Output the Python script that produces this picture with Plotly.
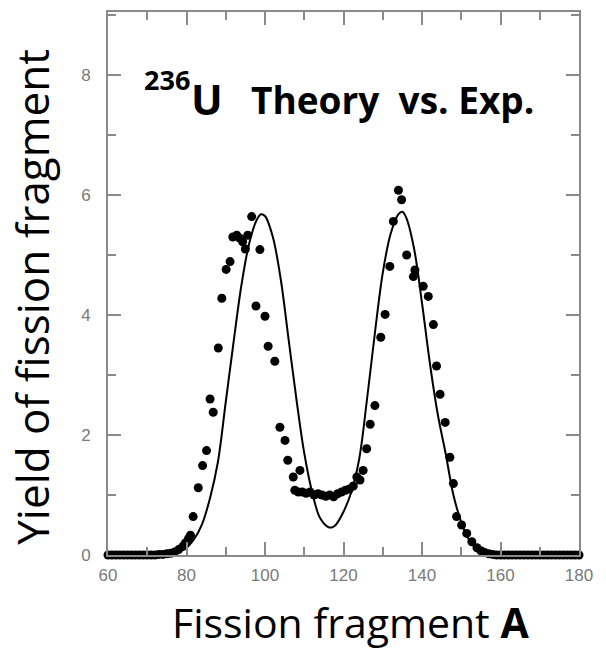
import plotly.graph_objects as go

# Theory curve: fragment mass number A and yield (%)
theory_A = [60, 70, 74, 76, 78, 80, 82, 84, 86, 88, 90, 92, 94, 96, 98, 99, 100,
            102, 104, 106, 108, 110, 112, 114, 116, 117, 118, 120, 122, 124, 126,
            128, 130, 132, 134, 135, 136, 138, 140, 142, 144, 146, 148, 150, 152,
            154, 156, 158, 160, 170, 180]
theory_Y = [0, 0, 0.01, 0.03, 0.06, 0.12, 0.27, 0.52, 0.95, 1.55, 2.55, 3.55, 4.5,
            5.2, 5.6, 5.68, 5.65, 5.3, 4.6, 3.6, 2.6, 1.7, 1.05, 0.62, 0.47, 0.46,
            0.5, 0.72, 1.05, 1.6, 2.6, 3.7, 4.7, 5.35, 5.68, 5.72, 5.62, 5.1, 4.2,
            3.2, 2.35, 1.7, 1.0, 0.55, 0.25, 0.12, 0.06, 0.02, 0, 0, 0]

# Experimental yields
exp_A = [60, 61, 62, 63, 64, 65, 66, 67, 68, 69, 70, 71, 72, 73, 74, 75, 76, 77,
         78, 79, 79.7, 80.5, 81, 81.7, 83.0, 84.1, 85.1, 86.0, 86.8, 88.1, 89.0,
         90.1, 91.1, 91.8, 92.8, 93.6, 94.3, 95.0, 95.6, 96.6, 97.7, 98.7, 100.0,
         100.8, 102.5, 103.8, 105.1, 105.8, 107.2, 107.6, 108.9, 108.5, 109.5,
         110.5, 111.5, 112.5, 113.5, 114.5, 115.5, 116.5, 117.5, 118.5, 119.5,
         120.5, 121.5, 122.5, 123.4, 124.2, 125.0, 125.9, 126.8, 128.0, 129.5,
         130.6, 131.8, 132.7, 134.0, 134.8, 136.1, 137.8, 138.2, 140.3, 141.6,
         142.9, 143.7, 144.6, 145.9, 147.1, 148.0, 148.8, 150.1, 151.4, 152.7,
         154, 155, 156, 157, 158, 159, 160, 161, 162, 163, 164, 165, 166, 167,
         168, 169, 170, 171, 172, 173, 174, 175, 176, 177, 178, 179, 180]
exp_Y = [0, 0, 0, 0, 0, 0, 0, 0, 0, 0, 0, 0, 0, 0.01, 0.01, 0.02, 0.03, 0.05,
         0.09, 0.14, 0.2, 0.27, 0.33, 0.64, 1.12, 1.49, 1.74, 2.6, 2.38, 3.45,
         4.28, 4.76, 4.89, 5.3, 5.33, 5.28, 5.22, 5.1, 5.33, 5.64, 4.15, 5.09,
         3.98, 3.48, 3.23, 2.13, 1.91, 1.58, 1.3, 1.08, 1.41, 1.05, 1.05, 1.03,
         1.05, 1.0, 1.02, 1.0, 0.98, 1.0, 0.97, 1.02, 1.05, 1.08, 1.1, 1.15, 1.3,
         1.25, 1.41, 1.77, 2.18, 2.49, 3.63, 4.01, 4.81, 5.56, 6.08, 5.92, 5.0,
         4.64, 4.75, 4.48, 4.31, 3.84, 3.15, 2.68, 2.21, 1.63, 1.19, 0.64, 0.5,
         0.36, 0.22, 0.12, 0.07, 0.04, 0.02, 0.01, 0, 0, 0, 0, 0, 0, 0, 0, 0, 0,
         0, 0, 0, 0, 0, 0, 0, 0, 0, 0, 0, 0]

x_ticks = [60, 80, 100, 120, 140, 160, 180]
y_ticks = [0, 2, 4, 6, 8]

AXIS_GREY = "#8a8a8a"
TEXT_FONT = "Open Sans"

fig = go.Figure()
fig.add_trace(go.Scatter(
    x=exp_A, y=exp_Y, mode="markers",
    marker=dict(color="black", size=9, line=dict(width=0)),
    showlegend=False, cliponaxis=False))
fig.add_trace(go.Scatter(
    x=theory_A, y=theory_Y, mode="lines", line_shape="spline",
    line=dict(color="black", width=2), showlegend=False))

axis_common = dict(
    showline=True, linecolor=AXIS_GREY, linewidth=2, mirror="allticks",
    ticks="inside", ticklen=13, tickwidth=2, tickcolor=AXIS_GREY,
    showgrid=False, zeroline=False,
    tickfont=dict(family="Liberation Sans", size=17, color="#7a7a7a"),
)

fig.update_xaxes(range=[60, 180], tickvals=x_ticks, ticktext=[str(v) for v in x_ticks],
                 minor=dict(dtick=10, tick0=60, ticks="inside", ticklen=8,
                            tickwidth=2, tickcolor=AXIS_GREY),
                 ticklabelstandoff=4,
                 **axis_common)
fig.update_yaxes(range=[0, 9.05], tickvals=y_ticks, ticktext=[str(v) for v in y_ticks],
                 minor=dict(dtick=1, tick0=0, ticks="inside", ticklen=8,
                            tickwidth=2, tickcolor=AXIS_GREY),
                 ticklabelstandoff=12,
                 **axis_common)

annotations = [
    dict(text="Fission fragment <b>A</b>", x=0.514, y=-0.123, xref="paper", yref="paper",
         xanchor="center", yanchor="middle", showarrow=False,
         font=dict(family=TEXT_FONT, size=41, color="black")),
    dict(text="Yield of fission fragment", x=-0.162, y=0.475, xref="paper", yref="paper",
         xanchor="center", yanchor="middle", textangle=-90, showarrow=False,
         font=dict(family=TEXT_FONT, size=44, color="black")),
    dict(text="<b>236</b>", x=0.072, y=0.875, xref="paper", yref="paper",
         xanchor="left", yanchor="middle", showarrow=False,
         font=dict(family=TEXT_FONT, size=27, color="black")),
    dict(text="<b>U</b>", x=0.172, y=0.84, xref="paper", yref="paper",
         xanchor="left", yanchor="middle", showarrow=False,
         font=dict(family=TEXT_FONT, size=42, color="black")),
    dict(text="<b>Theory  vs. Exp.</b>", x=0.3, y=0.838, xref="paper", yref="paper",
         xanchor="left", yanchor="middle", showarrow=False,
         font=dict(family=TEXT_FONT, size=37, color="black")),
]

fig.update_layout(
    width=606, height=652,
    margin=dict(l=108, r=27, t=10, b=97),
    plot_bgcolor="white", paper_bgcolor="white",
    annotations=annotations,
)

fig.write_html("out.html")
